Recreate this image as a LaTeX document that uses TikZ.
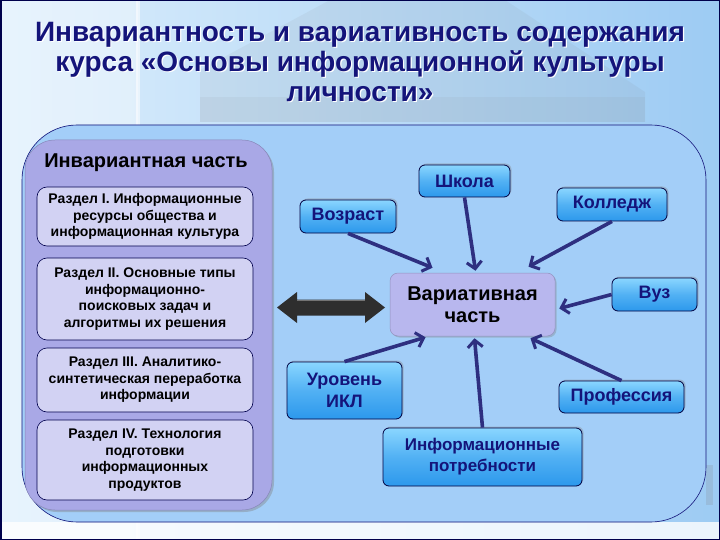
\documentclass[tikz,border=0pt]{standalone}
\usepackage{fontspec}
\setmainfont{Liberation Sans}
\usetikzlibrary{shadows,arrows.meta,calc}
\definecolor{navy}{HTML}{14147A}
\definecolor{arrowc}{HTML}{2E2F80}
\definecolor{bgl}{HTML}{DCEEFC}
\definecolor{bgr}{HTML}{9DCBF3}
\definecolor{panel}{HTML}{A3CEF8}
\definecolor{lav}{HTML}{A9A8E6}
\definecolor{lavl}{HTML}{D2D2F3}
\definecolor{varc}{HTML}{B8B7EE}
\definecolor{btnt}{HTML}{8AD6FF}
\definecolor{btnb}{HTML}{2C98EC}
\tikzset{
  btn/.style={draw=black!75!blue, line width=0.8pt, rounded corners=6pt,
    top color=btnt, bottom color=btnb, middle color=btnb!60!btnt,
    text=navy, font=\bfseries\fontsize{18}{22}\selectfont, align=center,
    drop shadow={shadow xshift=1.5pt, shadow yshift=1.5pt, opacity=0.35},
    inner sep=0pt},
  sect/.style={draw=black!70!blue, line width=0.6pt, rounded corners=10pt, fill=lavl,
    font=\bfseries\fontsize{14}{16.6}\selectfont, align=center, inner sep=0pt,
    minimum width=216pt},
  arr/.style={draw=arrowc, line width=3.6pt, -{Straight Barb[length=7pt,width=15pt,line width=3pt]}},
}
\begin{document}
\begin{tikzpicture}[x=1pt,y=-1pt]
\useasboundingbox (0,0) rectangle (720,540);
% background
\shade[left color=bgl, right color=bgr] (0,0) rectangle (720,540);
\fill[white, opacity=0.35] (0,0) rectangle (138,540);
\fill[white, opacity=0.55] (136,0) rectangle (140,540);
\fill[gray, opacity=0.09] (200,122) -- (200,70) -- (330,0) -- (505,0) -- (645,92) -- (645,122) -- cycle;
\fill[gray, opacity=0.08] (200,97) rectangle (645,122);
\fill[white, opacity=0.8] (0,522) rectangle (720,540);
\fill[gray, opacity=0.2] (706,465) rectangle (713,505);
\draw[black!70!blue, line width=1.5pt] (0.75,0.75) rectangle (719.25,539.25);
% title
\node[text=white, font=\bfseries\fontsize{28}{30}\selectfont, align=center] at (361.2,63.2)
   {Инвариантность и вариативность содержания\\курса «Основы информационной культуры\\личности»};
\node (title) [text=navy, font=\bfseries\fontsize{28}{30}\selectfont, align=center] at (360,62)
   {Инвариантность и вариативность содержания\\курса «Основы информационной культуры\\личности»};
% main panel
\draw[panel, fill=panel, rounded corners=55pt] (22,125) rectangle (706,522);
\draw[navy, line width=0.6pt, rounded corners=55pt] (22,125) rectangle (706,522);
% left panel
\node (inv) [draw=lav!80!black, line width=0.5pt, fill=lav, rounded corners=30pt,
   minimum width=247pt, minimum height=370pt, inner sep=0pt,
   drop shadow={shadow xshift=2pt, shadow yshift=-2pt, opacity=0.4}] at (148.5,325) {};
\node (invt) [font=\bfseries\fontsize{20}{22}\selectfont] at (146,163) {Инвариантная часть};
\node (s1) [sect, minimum height=59pt] at (145,216.5)
  {Раздел I. Информационные\\ресурсы общества и\\информационная культура};
\node (s2) [sect, minimum height=82pt] at (145,299)
  {Раздел II. Основные типы\\информационно-\\поисковых задач и\\алгоритмы их решения};
\node (s3) [sect, minimum height=64pt] at (145,380)
  {Раздел III. Аналитико-\\синтетическая переработка\\информации};
\node (s4) [sect, minimum height=80pt] at (145,460)
  {Раздел IV. Технология\\подготовки\\информационных\\продуктов};
% variative node
\node (var) [draw=varc!80!black, line width=0.5pt, fill=varc, rounded corners=8pt,
   minimum width=165pt, minimum height=63pt, inner sep=0pt, align=center,
   font=\bfseries\fontsize{20}{22}\selectfont,
   drop shadow={shadow xshift=1.5pt, shadow yshift=-1.5pt, opacity=0.35}] at (472.5,304.5)
   {Вариативная\\часть};
% double arrow
\coordinate (dl) at (277,307.5);
\coordinate (dr) at (385,307.5);
\fill[black!82] (dl) -- ++(20,-15.5) -- ++(0,7.5) -- ++(68,0) -- ++(0,-7.5) -- (dr)
   -- ++(-20,15.5) -- ++(0,-7.5) -- ++(-68,0) -- ++(0,7.5) -- cycle;
\draw[black!55, line width=1.2pt] ($(dl)+(20,-7)$) -- ($(dr)+(-20,-7)$);
% buttons
\node (shkola) [btn, minimum width=91pt, minimum height=32pt] at (464.5,181) {Школа};
\node (vozrast) [btn, minimum width=96pt, minimum height=33pt] at (348,216.5) {Возраст};
\node (kolledzh) [btn, minimum width=110pt, minimum height=33pt] at (612,204.5) {Колледж};
\node (vuz) [btn, minimum width=85pt, minimum height=33pt] at (654.5,294.5) {Вуз};
\node (uroven) [btn, minimum width=115pt, minimum height=57pt] at (344.5,390.5) {Уровень\\ИКЛ};
\node (prof) [btn, minimum width=125pt, minimum height=32pt] at (621.5,397) {Профессия};
\node (potr) [btn, minimum width=199pt, minimum height=58pt, font=\bfseries\fontsize{17}{21}\selectfont] at (482.5,457) {Информационные\\потребности};
% arrows
\draw[arr] (vozrast.south) -- ($(var.north)+(-40,-5)$);
\draw[arr] (shkola.south) -- ($(var.north)+(3,-2)$);
\draw[arr] (kolledzh.south) -- ($(var.north)+(56,-6)$);
\draw[arr] (vuz.west) -- ($(var.east)+(4,4)$);
\draw[arr] (uroven.north) -- ($(var.south)+(-47,1)$);
\draw[arr] (potr.north) -- ($(var.south)+(2,2)$);
\draw[arr] (prof.north) -- ($(var.south)+(58,2)$);
\end{tikzpicture}
\end{document}
